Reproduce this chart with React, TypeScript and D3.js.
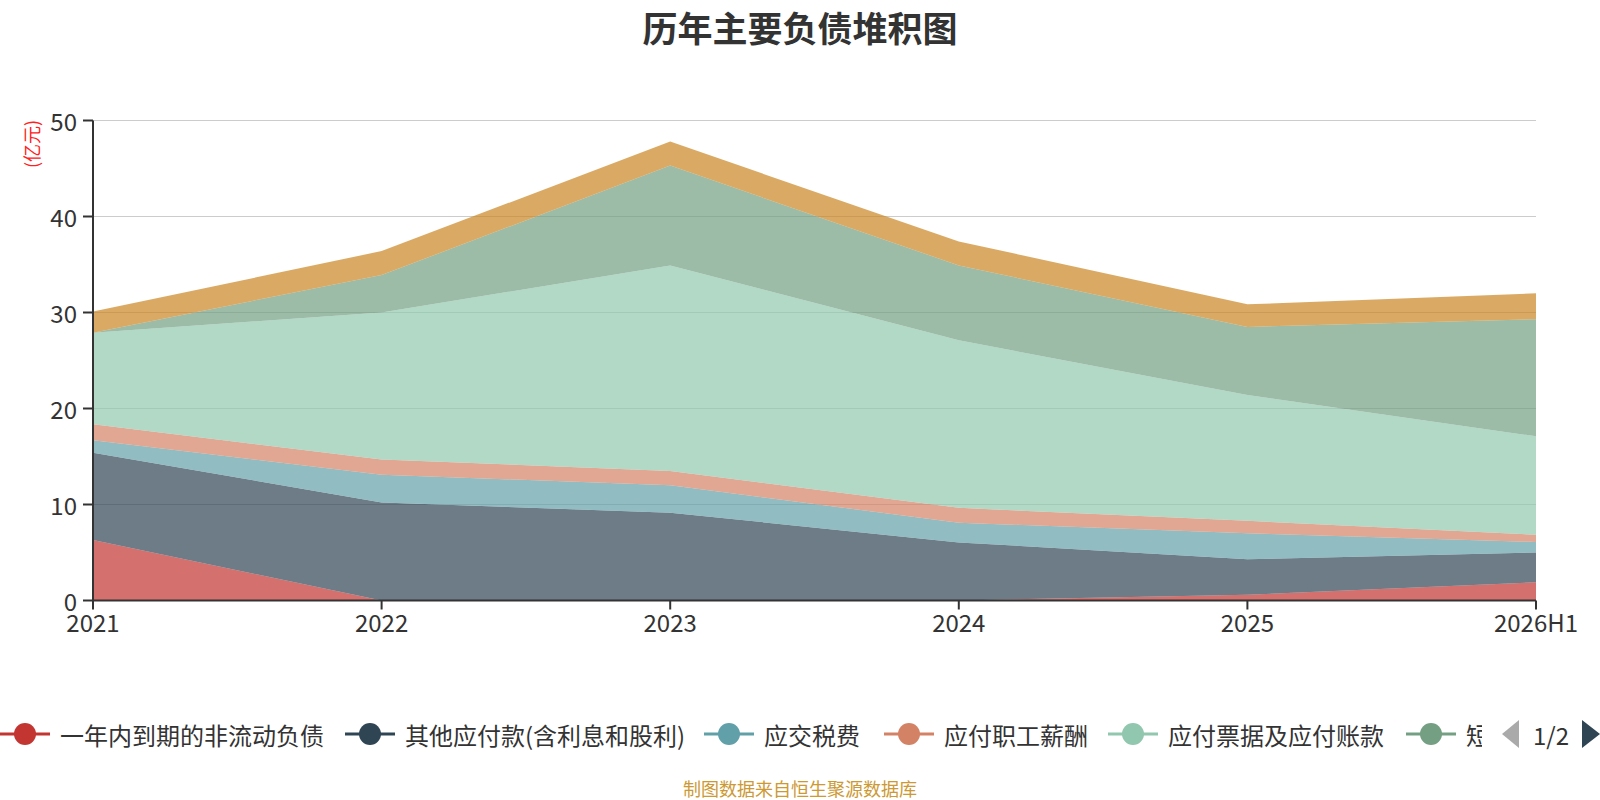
import React from 'react';
import * as d3 from 'd3';

// categories
const years = ['2021', '2022', '2023', '2024', '2025', '2026H1'];

// series values (亿元)
const currentPortionNonCurrent = [6.3, 0, 0, 0, 0.6, 1.9];
const otherPayables = [9.1, 10.2, 9.15, 6.05, 3.7, 3.1];
const taxesPayable = [1.3, 2.9, 2.85, 2.05, 2.7, 1.1];
const payrollPayable = [1.65, 1.6, 1.5, 1.55, 1.3, 0.75];
const notesAndAccountsPayable = [9.55, 15.3, 21.4, 17.45, 13.1, 10.25];
const shortTermLoans = [0, 3.9, 10.4, 7.8, 7.1, 12.2];
const contractLiabilities = [2.2, 2.5, 2.5, 2.5, 2.35, 2.7];

const seriesNames = [
  '一年内到期的非流动负债',
  '其他应付款(含利息和股利)',
  '应交税费',
  '应付职工薪酬',
  '应付票据及应付账款',
  '短期借款',
  '合同负债',
];
const seriesValues = [
  currentPortionNonCurrent,
  otherPayables,
  taxesPayable,
  payrollPayable,
  notesAndAccountsPayable,
  shortTermLoans,
  contractLiabilities,
];
const colors = ['#c23531', '#2f4554', '#61a0a8', '#d48265', '#91c7ae', '#749f83', '#ca8622'];
const yTicks = [0, 10, 20, 30, 40, 50];

const W = 1600;
const H = 800;
const FONT = "'Noto Sans CJK SC', 'Noto Sans', sans-serif";

// legend page 1 shows the first six entries
const legendStarts = [0, 345, 704, 884, 1108, 1406];
const legendClip = 1482;
const legendY = 734;

export default function App() {
  const x = d3.scalePoint<string>().domain(years).range([93, 1536]);
  const y = d3.scaleLinear().domain([0, 50]).range([600.5, 120.5]);

  const rows = years.map((yr, i) => {
    const r: any = { year: yr };
    seriesNames.forEach((n, k) => (r[n] = seriesValues[k][i]));
    return r;
  });
  const stacked = d3.stack<any>().keys(seriesNames)(rows);

  const area = d3
    .area<any>()
    .x((d) => x(d.data.year) as number)
    .y0((d) => y(d[0]))
    .y1((d) => y(d[1]));

  const x0 = x.range()[0];
  const x1 = x.range()[1];

  return (
    <svg
      width={W}
      height={H}
      style={{ position: 'absolute', left: 0, top: 0, background: '#fff' }}
      fontFamily={FONT}
    >
      <defs>
        <clipPath id="legend-clip">
          <rect x={-10} y={700} width={legendClip + 10} height={70} />
        </clipPath>
      </defs>

      <text x={800} y={26} textAnchor="middle" dominantBaseline="central" fontSize={35} fontWeight="bold" fill="#333">
        历年主要负债堆积图
      </text>

      {/* grid */}
      {yTicks.filter((t) => t > 0).map((t) => (
        <line key={t} x1={x0} x2={x1} y1={y(t)} y2={y(t)} stroke="#ccc" strokeWidth={1} />
      ))}

      {/* stacked areas */}
      {stacked.map((s, k) => (
        <path key={s.key} d={area(s) || ''} fill={colors[k]} fillOpacity={0.7} stroke="none" />
      ))}

      {/* y axis */}
      <line x1={x0} x2={x0} y1={y(50)} y2={y(0)} stroke="#333" strokeWidth={2} />
      {yTicks.map((t) => (
        <g key={t}>
          <line x1={x0 - 10} x2={x0} y1={y(t)} y2={y(t)} stroke="#333" strokeWidth={2} />
          <text x={x0 - 16} y={y(t)} textAnchor="end" dominantBaseline="central" fontSize={24} fill="#333">
            {t}
          </text>
        </g>
      ))}
      <text
        transform={`translate(31,144) rotate(-90)`}
        textAnchor="middle"
        dominantBaseline="central"
        fontSize={18}
        fill="#ff2020"
      >
        (亿元)
      </text>

      {/* x axis */}
      <line x1={x0} x2={x1} y1={y(0)} y2={y(0)} stroke="#333" strokeWidth={2} />
      {years.map((yr) => (
        <g key={yr}>
          <line x1={x(yr)} x2={x(yr)} y1={y(0)} y2={y(0) + 9} stroke="#333" strokeWidth={2} />
          <text x={x(yr)} y={632} textAnchor="middle" fontSize={24} fill="#333">
            {yr}
          </text>
        </g>
      ))}

      {/* legend */}
      <g clipPath="url(#legend-clip)">
        {legendStarts.map((lx, k) => (
          <g key={seriesNames[k]}>
            <line x1={lx} x2={lx + 50} y1={legendY} y2={legendY} stroke={colors[k]} strokeWidth={3} />
            <circle cx={lx + 25} cy={legendY} r={11} fill={colors[k]} />
            <text x={lx + 60} y={legendY} dominantBaseline="central" fontSize={24} fill="#333">
              {seriesNames[k]}
            </text>
          </g>
        ))}
      </g>
      {/* legend pager */}
      <path d={`M1519,${legendY - 14} L1502,${legendY} L1519,${legendY + 14} Z`} fill="#aaa" />
      <text x={1551} y={legendY} textAnchor="middle" dominantBaseline="central" fontSize={24} fill="#333">
        1/2
      </text>
      <path d={`M1582,${legendY - 14} L1600,${legendY} L1582,${legendY + 14} Z`} fill="#2f4554" />

      <text x={800} y={788} textAnchor="middle" dominantBaseline="central" fontSize={18} fill="#cc9933">
        制图数据来自恒生聚源数据库
      </text>
    </svg>
  );
}
